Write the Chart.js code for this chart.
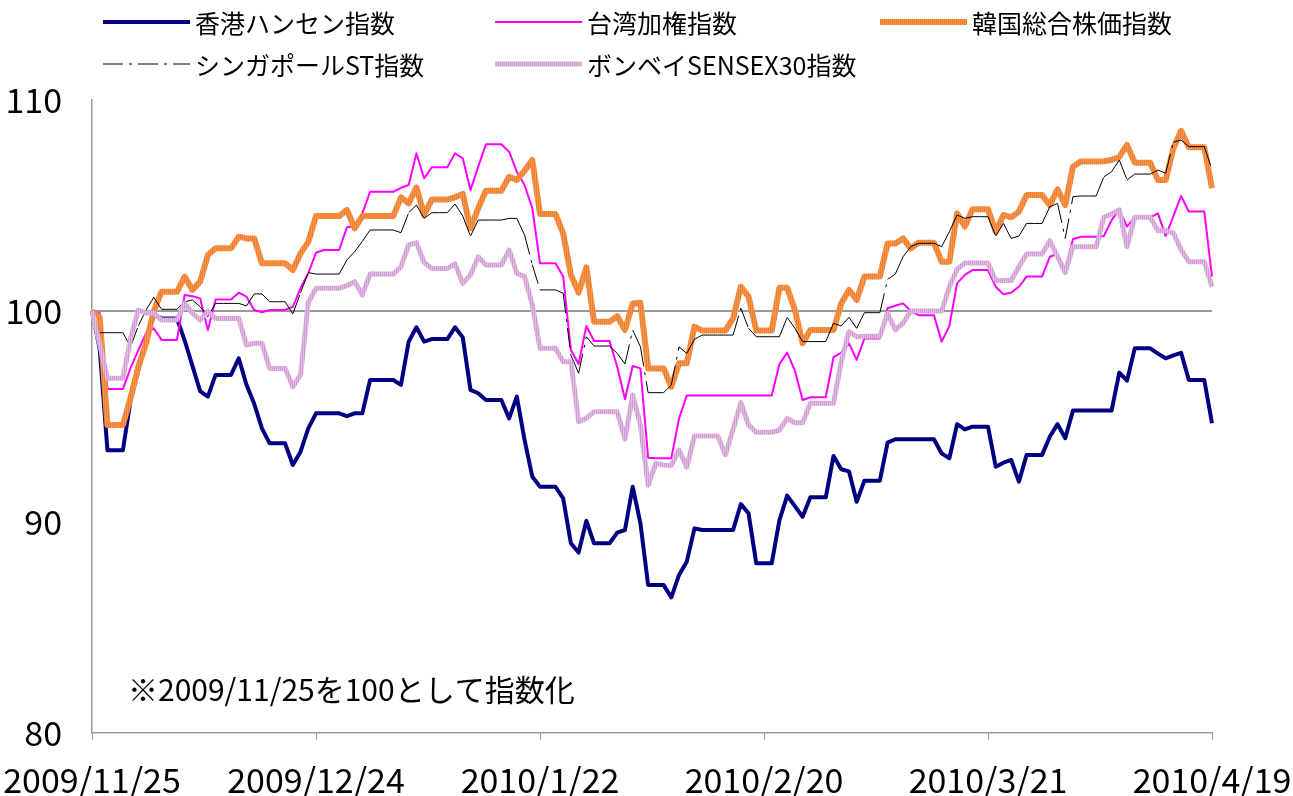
<!DOCTYPE html>
<html>
<head>
<meta charset="utf-8">
<script src="https://cdn.jsdelivr.net/npm/chart.js@4.4.1/dist/chart.umd.min.js"></script>
<style>
  html, body { margin: 0; padding: 0; background: #fff; }
</style>
</head>
<body>
<canvas id="chart" width="1293" height="796"></canvas>
<script>
// daily index values, 2009/11/25 = 100 (weekends/holidays carry the last close)
const tickLabels = ['2009/11/25', '2009/12/24', '2010/1/22', '2010/2/20', '2010/3/21', '2010/4/19'];
const seriesNames = ['香港ハンセン指数', '台湾加権指数', '韓国総合株価指数', 'シンガポールST指数', 'ボンベイSENSEX30指数'];

const hangSeng = [
  100, 98.2, 93.4, 93.4, 93.4, 95.8, 97.2, 98.6, 99.8, 99.65,
  99.65, 99.65, 98.6, 97.4, 96.2, 95.94, 96.97, 96.97, 96.97, 97.76,
  96.5, 95.6, 94.44, 93.73, 93.73, 93.73, 92.7, 93.33, 94.44, 95.15,
  95.15, 95.15, 95.15, 95.02, 95.15, 95.15, 96.73, 96.73, 96.73, 96.73,
  96.5, 98.55, 99.23, 98.55, 98.67, 98.67, 98.67, 99.23, 98.75, 96.26,
  96.1, 95.78, 95.78, 95.78, 94.91, 95.94, 93.89, 92.15, 91.67, 91.67,
  91.67, 91.12, 88.99, 88.55, 90.06, 88.99, 88.99, 88.99, 89.5, 89.62,
  91.67, 89.94, 87.01, 87.01, 87.01, 86.43, 87.49, 88.12, 89.7, 89.62,
  89.62, 89.62, 89.62, 89.62, 90.85, 90.41, 88.04, 88.04, 88.04, 90.09,
  91.25, 90.75, 90.25, 91.17, 91.17, 91.17, 93.13, 92.5, 92.4, 90.96,
  91.96, 91.96, 91.96, 93.76, 93.92, 93.92, 93.92, 93.92, 93.92, 93.92,
  93.25, 93.02, 94.64, 94.39, 94.52, 94.52, 94.52, 92.62, 92.81, 92.94,
  91.91, 93.18, 93.18, 93.18, 94.04, 94.64, 93.97, 95.28, 95.28, 95.28,
  95.28, 95.28, 95.28, 97.08, 96.7, 98.23, 98.23, 98.23, 97.98, 97.76,
  97.9, 98.02, 96.73, 96.73, 96.73, 94.68
];
const taiwan = [
  100, 99.9, 96.3, 96.3, 96.3, 97.3, 98.15, 98.94, 99.18, 98.63,
  98.63, 98.63, 100.76, 100.7, 100.6, 99.1, 100.55, 100.55, 100.55, 100.87,
  100.68, 100.05, 99.94, 100.05, 100.05, 100.05, 100.2, 101.08, 101.79, 102.76,
  102.89, 102.89, 102.89, 103.97, 104.0, 104.63, 105.65, 105.65, 105.65, 105.65,
  105.84, 105.97, 107.47, 106.29, 106.81, 106.81, 106.81, 107.47, 107.24, 105.73,
  106.84, 107.9, 107.9, 107.9, 107.55, 106.6, 105.97, 104.87, 102.26, 102.26,
  102.26, 101.63, 98.15, 97.49, 99.29, 98.58, 98.58, 98.58, 97.36, 95.82,
  97.39, 97.28, 93.05, 93.02, 93.02, 93.02, 94.9, 96.0, 96.0, 96.0,
  96.0, 96.0, 96.0, 96.0, 96.0, 96.0, 96.0, 96.0, 96.0, 97.49,
  98.03, 97.17, 95.78, 95.91, 95.91, 95.91, 97.81, 98.03, 98.47, 97.68,
  98.7, 98.7, 98.7, 100.13, 100.25, 100.36, 100.0, 99.8, 99.8, 99.8,
  98.55, 99.29, 101.31, 101.71, 101.94, 101.94, 101.94, 101.15, 100.79, 100.87,
  101.15, 101.63, 101.63, 101.63, 102.57, 102.7, 101.98, 103.4, 103.52, 103.52,
  103.52, 103.55, 104.31, 104.79, 104.0, 104.44, 104.44, 104.44, 104.63, 103.55,
  104.5, 105.45, 104.71, 104.71, 104.71, 101.63
];
const korea = [
  100, 99.7, 94.6, 94.6, 94.6, 95.9, 97.36, 98.47, 100.0, 100.91,
  100.91, 100.91, 101.63, 101.0, 101.39, 102.65, 102.97, 102.97, 102.97, 103.52,
  103.44, 103.44, 102.26, 102.26, 102.26, 102.26, 101.94, 102.73, 103.28, 104.5,
  104.5, 104.5, 104.5, 104.79, 103.92, 104.5, 104.5, 104.5, 104.5, 104.5,
  105.39, 105.1, 105.86, 104.55, 105.29, 105.29, 105.29, 105.39, 105.55, 103.92,
  104.87, 105.7, 105.7, 105.7, 106.36, 106.21, 106.65, 107.16, 104.6, 104.6,
  104.6, 103.68, 101.71, 100.87, 102.07, 99.49, 99.49, 99.49, 99.76, 99.1,
  100.36, 100.39, 97.28, 97.28, 97.28, 96.41, 97.52, 97.52, 99.26, 99.07,
  99.07, 99.07, 99.07, 99.65, 101.15, 100.68, 99.07, 99.07, 99.07, 101.1,
  101.1, 100.05, 98.47, 99.1, 99.1, 99.1, 99.1, 100.36, 101.0, 100.52,
  101.63, 101.63, 101.63, 103.2, 103.2, 103.44, 102.97, 103.24, 103.24, 103.24,
  102.34, 102.34, 104.63, 104.0, 104.82, 104.82, 104.82, 103.76, 104.55, 104.44,
  104.71, 105.5, 105.5, 105.5, 105.02, 105.77, 105.02, 106.84, 107.08, 107.08,
  107.08, 107.1, 107.16, 107.3, 107.87, 107.03, 107.03, 107.03, 106.21, 106.21,
  107.71, 108.54, 107.76, 107.76, 107.76, 105.82
];
const singapore = [
  100, 98.97, 98.97, 98.97, 98.97, 98.31, 99.3, 100.05, 100.65, 100.08,
  100.08, 100.08, 100.44, 100.52, 100.2, 99.73, 100.36, 100.36, 100.36, 100.36,
  100.24, 100.81, 100.81, 100.44, 100.44, 100.44, 99.86, 100.87, 101.82, 101.75,
  101.75, 101.75, 101.75, 102.42, 102.81, 103.3, 103.84, 103.84, 103.84, 103.84,
  103.71, 104.66, 105.02, 104.39, 104.66, 104.66, 104.66, 105.07, 104.5, 103.55,
  104.31, 104.31, 104.31, 104.31, 104.39, 104.39, 103.6, 102.2, 101.0, 101.0,
  101.0, 100.84, 97.9, 97.05, 98.78, 98.34, 98.34, 98.34, 97.99, 97.49,
  99.1, 98.31, 96.13, 96.13, 96.13, 96.49, 98.3, 97.99, 98.66, 98.86,
  98.86, 98.86, 98.86, 98.86, 100.13, 99.18, 98.78, 98.78, 98.78, 98.78,
  99.7, 99.18, 98.55, 98.55, 98.55, 98.55, 99.42, 99.29, 99.7, 99.18,
  99.92, 99.92, 99.92, 101.5, 101.75, 102.57, 103.05, 103.21, 103.21, 103.21,
  103.05, 103.76, 104.55, 104.39, 104.47, 104.47, 104.47, 103.55, 104.15, 103.44,
  103.55, 104.15, 104.15, 104.15, 104.94, 105.1, 103.44, 105.42, 105.45, 105.45,
  105.45, 106.36, 106.6, 107.16, 106.21, 106.49, 106.49, 106.49, 106.68, 106.53,
  108.0, 108.1, 107.79, 107.79, 107.79, 106.71
];
const sensex = [
  100, 98.4, 96.81, 96.81, 96.81, 98.7, 100.05, 99.9, 99.9, 99.57,
  99.57, 99.57, 100.36, 99.9, 99.57, 99.97, 99.65, 99.65, 99.65, 99.65,
  98.39, 98.47, 98.47, 97.28, 97.28, 97.28, 96.41, 96.97, 100.4, 101.08,
  101.08, 101.08, 101.08, 101.2, 101.39, 100.76, 101.75, 101.75, 101.75, 101.75,
  102.1, 103.13, 103.24, 102.3, 102.02, 102.02, 102.02, 102.23, 101.31, 101.71,
  102.57, 102.18, 102.18, 102.18, 102.89, 101.79, 101.63, 100.3, 98.23, 98.23,
  98.23, 97.6, 97.6, 94.75, 94.91, 95.23, 95.23, 95.23, 95.23, 93.93,
  96.02, 94.6, 91.75, 92.78, 92.7, 92.68, 93.41, 92.6, 94.08, 94.08,
  94.08, 94.08, 93.18, 94.4, 95.66, 94.6, 94.25, 94.25, 94.25, 94.36,
  94.91, 94.7, 94.7, 95.63, 95.63, 95.63, 95.63, 97.6, 99.02, 98.78,
  98.8, 98.8, 98.8, 99.89, 99.1, 99.42, 100.0, 100.0, 100.0, 100.0,
  100.0, 101.15, 101.98, 102.27, 102.27, 102.27, 102.27, 101.45, 101.45, 101.45,
  102.1, 102.7, 102.7, 102.7, 103.33, 102.57, 101.82, 103.05, 103.05, 103.05,
  103.05, 104.44, 104.6, 104.79, 103.05, 104.44, 104.44, 104.44, 103.8, 103.8,
  103.7, 102.9, 102.34, 102.34, 102.34, 101.15
];

// one category per calendar day from 2009/11/25
const categories = [];
for (let d = new Date(2009, 10, 25); categories.length < hangSeng.length; d.setDate(d.getDate() + 1)) {
  categories.push(d.getFullYear() + '/' + (d.getMonth() + 1) + '/' + d.getDate());
}

// vertical hatch used by the thick orange / lilac lines
function hatch(base, stripe) {
  const c = document.createElement('canvas');
  c.width = 2; c.height = 2;
  const g = c.getContext('2d');
  g.fillStyle = base; g.fillRect(0, 0, 2, 2);
  g.fillStyle = stripe; g.fillRect(0, 0, 1, 2);
  return g.createPattern(c, 'repeat');
}

const sgDash = [20, 6, 3, 6];
const font = '"Noto Sans CJK JP", "Noto Sans", sans-serif';

const legendGrid = {
  id: 'legendGrid',
  afterDraw(chart) {
    const ctx = chart.ctx;
    const cols = [103, 495, 880];
    const rows = [22, 64];
    ctx.save();
    chart.data.datasets.forEach((ds, i) => {
      const x = cols[i % 3];
      const y = rows[Math.floor(i / 3)];
      ctx.strokeStyle = ds.borderColor;
      ctx.lineWidth = ds.borderWidth;
      ctx.setLineDash(ds.borderDash || []);
      ctx.beginPath();
      ctx.moveTo(x, y);
      ctx.lineTo(x + 87, y);
      ctx.stroke();
      ctx.setLineDash([]);
      ctx.fillStyle = '#000';
      ctx.font = '25px ' + font;
      ctx.textBaseline = 'middle';
      ctx.fillText(ds.label, x + 92, y + 1);
    });
    ctx.font = '30px ' + font;
    ctx.fillText('※2009/11/25を100として指数化', 128, 690);
    ctx.restore();
  }
};

new Chart(document.getElementById('chart'), {
  type: 'line',
  data: {
    labels: categories,
    datasets: [
      { label: seriesNames[0], data: hangSeng, borderColor: '#000080', borderWidth: 4, order: 5 },
      { label: seriesNames[1], data: taiwan, borderColor: '#FF00FF', borderWidth: 2, order: 4 },
      { label: seriesNames[2], data: korea, borderColor: hatch('#F79646', '#EE7F35'), borderWidth: 6, order: 3 },
      {
        label: seriesNames[3], data: singapore, borderColor: '#000', borderWidth: 1, order: 2,
        borderDash: sgDash,
        // restart the dash on every segment, like the original renderer
        segment: { borderDashOffset: ctx => (ctx.p0DataIndex % 2) * 0.01 }
      },
      { label: seriesNames[4], data: sensex, borderColor: hatch('#E2BCE2', '#CE9ED0'), borderWidth: 5, order: 1 }
    ]
  },
  options: {
    responsive: false,
    animation: false,
    layout: { padding: { top: 100, right: 81, left: 0, bottom: 0 } },
    elements: {
      point: { radius: 0, hoverRadius: 0 },
      line: { tension: 0, borderJoinStyle: 'round', fill: false }
    },
    plugins: { legend: { display: false }, tooltip: { enabled: false } },
    scales: {
      x: {
        offset: false,
        border: { color: '#999', width: 1.5 },
        grid: {
          drawOnChartArea: false,
          drawTicks: true,
          tickLength: 7,
          color: '#999'
        },
        ticks: {
          autoSkip: false,
          maxRotation: 0,
          minRotation: 0,
          padding: 20,
          color: '#000',
          font: { family: font, size: 34 },
          callback(value) {
            const label = this.getLabelForValue(value);
            return tickLabels.includes(label) ? label : null;
          }
        },
        afterFit(scale) {
          scale.height = 63;
          scale.paddingLeft = 0;
          scale.paddingRight = 0;
        }
      },
      y: {
        min: 80,
        max: 110,
        border: { color: '#999', width: 1.5 },
        grid: {
          drawTicks: false,
          color: ctx => (ctx.tick && ctx.tick.value === 100 ? '#999' : 'transparent'),
          lineWidth: 2
        },
        ticks: {
          stepSize: 10,
          padding: 30,
          color: '#000',
          font: { family: font, size: 34 }
        },
        afterFit(scale) { scale.width = 92; }
      }
    }
  },
  plugins: [legendGrid]
});
</script>
</body>
</html>
